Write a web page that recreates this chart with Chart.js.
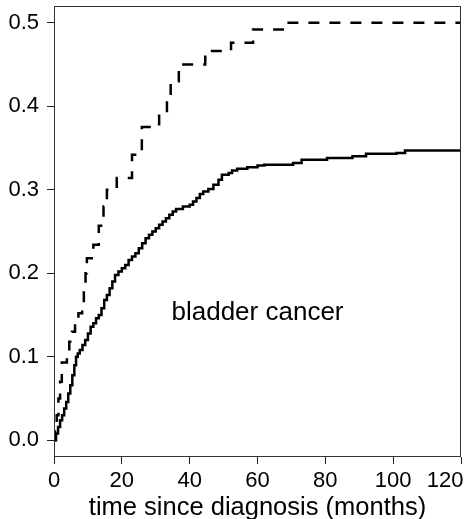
<!DOCTYPE html>
<html>
<head>
<meta charset="utf-8">
<script src="https://cdn.jsdelivr.net/npm/chart.js@4.4.1/dist/chart.umd.min.js"></script>
<style>
  html, body { margin: 0; padding: 0; background: #fff; }
  canvas { display: block; }
</style>
</head>
<body>
<canvas id="chart" width="469" height="519"></canvas>
<script>
// axis ticks
const xTicks = [0, 20, 40, 60, 80, 100, 120];
const yTicks = [0, 0.1, 0.2, 0.3, 0.4, 0.5];

// solid curve (cumulative incidence)
const solidTime = [0, 0.6, 1.2, 1.8, 2.4, 3.0, 3.6, 4.2, 4.8, 5.4, 6.0, 6.5, 7.0, 7.6, 8.4, 9.2, 10.0, 10.8, 11.6, 12.4, 13.2, 14.0, 14.8, 15.6, 16.4, 17.2, 18.0, 19.0, 20.0, 21.0, 22.0, 23.0, 24.0, 25.0, 26.0, 27.0, 28.0, 29.0, 30.0, 31.0, 32.0, 33.0, 34.0, 35.0, 36.0, 38.0, 40.0, 41.0, 42.0, 43.0, 44.0, 45.5, 47.0, 48.5, 49.5, 51.5, 52.5, 54.0, 57.0, 60.0, 62.0, 70.5, 73.0, 80.5, 88.0, 92.0, 101.0, 103.5, 120];
const solidRisk = [0, 0.008, 0.016, 0.024, 0.030, 0.038, 0.046, 0.056, 0.066, 0.078, 0.090, 0.100, 0.104, 0.108, 0.114, 0.120, 0.128, 0.136, 0.140, 0.146, 0.150, 0.158, 0.168, 0.174, 0.182, 0.190, 0.198, 0.202, 0.206, 0.210, 0.216, 0.220, 0.224, 0.230, 0.236, 0.242, 0.246, 0.250, 0.254, 0.258, 0.262, 0.266, 0.270, 0.274, 0.277, 0.280, 0.282, 0.286, 0.290, 0.295, 0.298, 0.301, 0.306, 0.312, 0.318, 0.320, 0.323, 0.325, 0.327, 0.329, 0.330, 0.332, 0.336, 0.338, 0.340, 0.343, 0.344, 0.347, 0.347];

// dashed curve
const dashTime = [0, 0.3, 0.8, 1.3, 1.8, 2.3, 3.8, 4.5, 5.3, 6.2, 7.2, 8.3, 8.8, 9.3, 9.7, 11.6, 13.2, 14.6, 15.6, 18.5, 23.0, 25.9, 31.0, 33.3, 34.4, 36.8, 44.6, 52.2, 58.7, 68.6, 120];
const dashRisk = [0, 0.012, 0.030, 0.050, 0.070, 0.093, 0.105, 0.118, 0.130, 0.142, 0.152, 0.165, 0.180, 0.200, 0.218, 0.234, 0.257, 0.280, 0.300, 0.314, 0.342, 0.375, 0.391, 0.410, 0.430, 0.450, 0.466, 0.476, 0.492, 0.500, 0.500];

const xTitle = 'time since diagnosis (months)';
const note = 'bladder cancer';
const noteAt = [60, 0.144];

const FONT = "'Liberation Sans', Arial, Helvetica, sans-serif";
Chart.defaults.font.family = FONT;
Chart.defaults.color = '#000';

const toPoints = (t, v) => t.map((x, i) => ({ x: x, y: v[i] }));

const extras = {
  id: 'extras',
  afterDraw(chart) {
    const ctx = chart.ctx;
    const { left, top, right, bottom } = chart.chartArea;
    const xs = chart.scales.x, ys = chart.scales.y;
    ctx.save();
    // frame
    ctx.strokeStyle = '#333';
    ctx.lineWidth = 1;
    ctx.strokeRect(left + 0.5, top + 0.5, right - left - 1, bottom - top - 1);
    // last x label sits inside the window
    ctx.fillStyle = '#000';
    ctx.font = '22px ' + FONT;
    ctx.textAlign = 'right';
    ctx.textBaseline = 'middle';
    ctx.fillText(String(xTicks[xTicks.length - 1]), xs.getPixelForValue(xTicks[xTicks.length - 1]) + 2.5, bottom + 11 + 22 * 1.2 / 2);
    // annotation
    ctx.font = '26px ' + FONT;
    ctx.textAlign = 'center';
    ctx.textBaseline = 'alphabetic';
    ctx.fillText(note, xs.getPixelForValue(noteAt[0]), ys.getPixelForValue(noteAt[1]));
    ctx.restore();
  }
};

new Chart(document.getElementById('chart'), {
  type: 'line',
  data: {
    datasets: [
      {
        data: toPoints(dashTime, dashRisk),
        borderColor: '#000',
        borderWidth: 2.5,
        borderDash: [11, 10],
        stepped: 'before',
        pointRadius: 0,
        fill: false
      },
      {
        data: toPoints(solidTime, solidRisk),
        borderColor: '#000',
        borderWidth: 2.5,
        stepped: 'before',
        pointRadius: 0,
        fill: false
      }
    ]
  },
  options: {
    responsive: false,
    animation: false,
    devicePixelRatio: 1,
    layout: { padding: { top: 6, right: 8, bottom: 0, left: 0 } },
    plugins: { legend: { display: false }, tooltip: { enabled: false } },
    scales: {
      x: {
        type: 'linear',
        min: 0,
        max: 120,
        afterBuildTicks: s => { s.ticks = xTicks.map(v => ({ value: v })); },
        afterFit: s => { s.height = 62; s.paddingLeft = 0; s.paddingRight = 0; },
        border: { display: false },
        grid: { drawOnChartArea: false, tickLength: 7, color: '#222', lineWidth: 1 },
        ticks: {
          font: { size: 22 },
          padding: 4,
          maxRotation: 0,
          autoSkip: false,
          callback: v => (v === 120 ? '' : String(v))
        },
        title: { display: true, text: xTitle, font: { size: 25.5, lineHeight: 0.9 }, padding: { top: 0, bottom: 0 } }
      },
      y: {
        type: 'linear',
        min: -0.02,
        max: 0.52,
        afterBuildTicks: s => { s.ticks = yTicks.map(v => ({ value: v })); },
        afterFit: s => { s.width = 54; s.paddingTop = 0; s.paddingBottom = 0; },
        border: { display: false },
        grid: { drawOnChartArea: false, tickLength: 7, color: '#222', lineWidth: 1 },
        ticks: { font: { size: 22 }, padding: 8, callback: v => v.toFixed(1) }
      }
    }
  },
  plugins: [extras]
});
</script>
</body>
</html>
